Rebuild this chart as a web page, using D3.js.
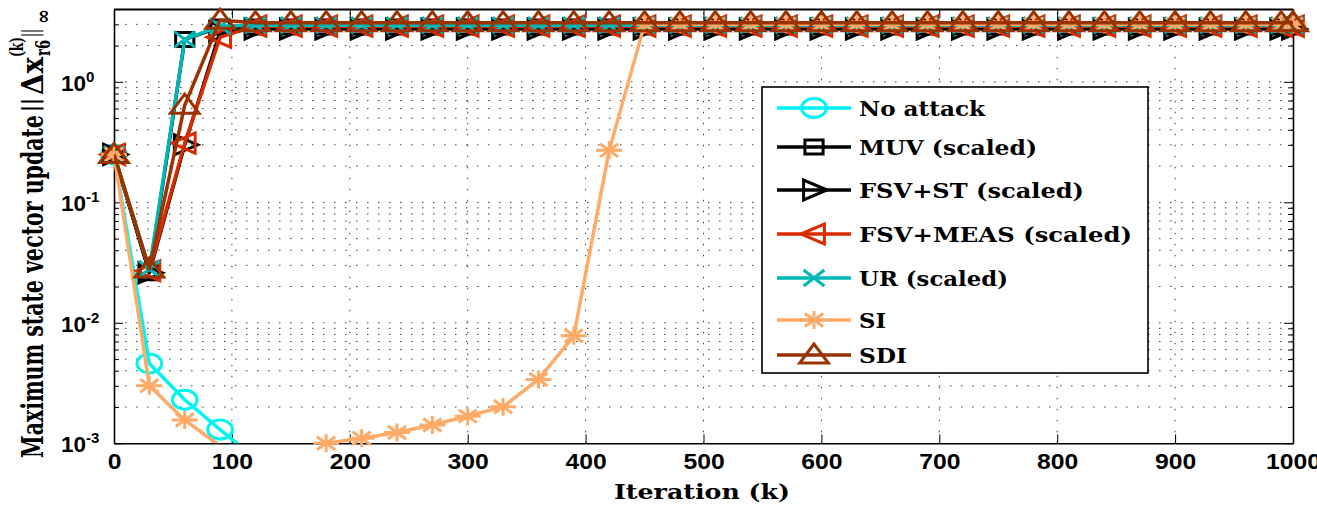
<!DOCTYPE html>
<html><head><meta charset="utf-8">
<script src="https://cdn.jsdelivr.net/npm/d3@7"></script>
<style>body{margin:0;background:#fff}svg{display:block}</style>
</head><body>
<svg id="c" width="1317" height="505"></svg>
<script>
// ---------- data ----------
const iterations = [0,30,60,90,120,150,180,210,240,270,300,330,360,390,420,450,480,510,540,570,600,630,660,690,720,750,780,810,840,870,900,930,960,990,1000];
const noAttack = [0.25,0.0046,0.0023,0.0013,0.00075,0.00045];
const muv = [0.25,0.026,2.25,2.85,2.85,2.85,2.85,2.85,2.85,2.85,2.85,2.85,2.85,2.85,2.85,2.85,2.85,2.85,2.85,2.85,2.85,2.85,2.85,2.85,2.85,2.85,2.85,2.85,2.85,2.85,2.85,2.85,2.85,2.85,2.85];
const fsvSt = [0.25,0.026,0.30,2.6,2.75,2.75,2.75,2.75,2.75,2.75,2.75,2.75,2.75,2.75,2.75,2.75,2.75,2.75,2.75,2.75,2.75,2.75,2.75,2.75,2.75,2.75,2.75,2.75,2.75,2.75,2.75,2.75,2.75,2.75,2.75];
const fsvMeas = [0.25,0.027,0.31,2.35,2.9,2.9,2.9,2.9,2.9,2.9,2.9,2.9,2.9,2.9,2.9,2.9,2.9,2.9,2.9,2.9,2.9,2.9,2.9,2.9,2.9,2.9,2.9,2.9,2.9,2.9,2.9,2.9,2.9,2.9,2.9];
const ur = [0.25,0.028,2.25,2.9,2.95,2.95,2.95,2.95,2.95,2.95,2.95,2.95,2.95,2.95,2.95,2.95,2.95,2.95,2.95,2.95,2.95,2.95,2.95,2.95,2.95,2.95,2.95,2.95,2.95,2.95,2.95,2.95,2.95,2.95,2.95];
const si = [0.25,0.0030,0.00156,0.00095,0.0007,0.0008,0.00100,0.00110,0.00123,0.00142,0.00168,0.00201,0.00339,0.0078,0.27,3.0,3.0,3.0,3.0,3.0,3.0,3.0,3.0,3.0,3.0,3.0,3.0,3.0,3.0,3.0,3.0,3.0,3.0,3.0,3.0];
const sdi = [0.25,0.028,0.64,3.25,3.1,3.1,3.1,3.1,3.1,3.1,3.1,3.1,3.1,3.1,3.1,3.1,3.1,3.1,3.1,3.1,3.1,3.1,3.1,3.1,3.1,3.1,3.1,3.1,3.1,3.1,3.1,3.1,3.1,3.1,3.1];
const seriesNames = ["No attack","MUV (scaled)","FSV+ST (scaled)","FSV+MEAS (scaled)","UR (scaled)","SI","SDI"];
const xTicks = [0,100,200,300,400,500,600,700,800,900,1000];
const xTickLabels = ["0","100","200","300","400","500","600","700","800","900","1000"];
const yMajorTicks = [0.001,0.01,0.1,1];
const yMajorExp = ["-3","-2","-1","0"];

// ---------- layout / style ----------
const L = 114, R = 1293, T = 9.3, B = 443.3;
const colors = ["#00f4f4","#000000","#000000","#d92b00","#00b7b7","#ffaa66","#993300"];
const markerPaths = {
  circle: "M9.5,0A9.5,9.5 0 1,1 -9.5,0A9.5,9.5 0 1,1 9.5,0Z",
  square: "M-7,-7H7V7H-7Z",
  triRight: "M10,0L-8,-10L-8,10Z",
  triLeft: "M-10,0L8,-10L8,10Z",
  cross: "M-8,-8L8,8M-8,8L8,-8",
  aster: "M-10,0H10M0,-9V9M-7,-6.5L7,6.5M-7,6.5L7,-6.5",
  triUp: "M0,-11L-11,8L11,8Z"
};
const markers = ["circle","square","triRight","triLeft","cross","aster","triUp"];
const seriesValues = [noAttack, muv, fsvSt, fsvMeas, ur, si, sdi];
const MSX = 1.3;

const svg = d3.select("#c");
const x = d3.scaleLinear().domain([0,1000]).range([L,R]);
const y = d3.scaleLog().domain([0.001,4]).range([B,T]);

// clip
svg.append("defs").append("clipPath").attr("id","plotclip")
  .append("rect").attr("x",L).attr("y",T).attr("width",R-L).attr("height",B-T);

// grid
const grid = svg.append("g").attr("stroke","#3a3a3a").attr("stroke-width",1).attr("stroke-dasharray","1.5,9.5");
grid.selectAll("line.gx").data(xTicks.filter(v=>v>0&&v<1000)).join("line").attr("class","gx")
  .attr("x1",d=>x(d)).attr("x2",d=>x(d)).attr("y1",B).attr("y2",T);
const yAll = y.ticks().filter(v=>v<3.99);
grid.selectAll("line.gy").data(yAll.filter(v=>v>0.00101)).join("line").attr("class","gy")
  .attr("x1",L).attr("x2",R).attr("y1",d=>y(d)).attr("y2",d=>y(d));

// axes
function styleAxis(g){
  g.select(".domain").attr("stroke","#000").attr("stroke-width",1.6);
  g.selectAll(".tick line").attr("stroke","#000").attr("stroke-width",1);
}
const gx = svg.append("g").attr("transform",`translate(0,${B})`)
  .call(d3.axisBottom(x).tickValues(xTicks).tickFormat((d,i)=>xTickLabels[i])
    .tickSizeInner(-9).tickSizeOuter(0).tickPadding(10));
styleAxis(gx);
gx.selectAll("text").attr("font-family","'Liberation Sans', Arial, sans-serif").attr("font-weight","bold")
  .attr("font-size",21.5).attr("fill","#000").attr("transform","scale(1.15,1)");
const gxt = svg.append("g").attr("transform",`translate(0,${T})`)
  .call(d3.axisTop(x).tickValues(xTicks).tickSizeInner(-9).tickSizeOuter(0).tickFormat(""));
styleAxis(gxt);

const gy = svg.append("g").attr("transform",`translate(${L},0)`)
  .call(d3.axisLeft(y).tickValues(yAll).tickSizeInner(-5).tickSizeOuter(0).tickFormat(""));
styleAxis(gy);
gy.selectAll(".tick text").remove();
gy.selectAll(".tick").filter(d=>yMajorTicks.some(m=>Math.abs(m-d)/m<1e-6)).each(function(d){
  const g = d3.select(this);
  g.select("line").attr("x2",9);
  const idx = yMajorTicks.findIndex(m=>Math.abs(m-d)/m<1e-6);
  const t = g.append("text").attr("x",61-L).attr("y",8.5).attr("text-anchor","start")
    .attr("font-family","'Liberation Sans', Arial, sans-serif").attr("font-weight","bold").attr("fill","#000")
    .attr("font-size",22.5);
  t.append("tspan").text("10");
  t.append("tspan").attr("dy",-9).attr("font-size",15).text(yMajorExp[idx]);
});
const gyr = svg.append("g").attr("transform",`translate(${R},0)`)
  .call(d3.axisRight(y).tickValues(yAll).tickSizeInner(-5).tickSizeOuter(0).tickFormat(""));
styleAxis(gyr);
gyr.selectAll(".tick").filter(d=>yMajorTicks.some(m=>Math.abs(m-d)/m<1e-6)).select("line").attr("x2",-9);
// top border
svg.append("line").attr("x1",L).attr("x2",R).attr("y1",T).attr("y2",T).attr("stroke","#000").attr("stroke-width",1.6);

// series
const line = d3.line().x(d=>x(d[0])).y(d=>y(Math.max(d[1],1e-6)));
const plot = svg.append("g");
seriesValues.forEach((vals,i)=>{
  const pts = vals.map((v,j)=>[iterations[j],v]);
  const sg = plot.append("g");
  sg.append("path").datum(pts).attr("clip-path","url(#plotclip)")
    .attr("d",line).attr("fill","none").attr("stroke",colors[i]).attr("stroke-width",3.5)
    .attr("stroke-linejoin","round");
  sg.selectAll("path.m").data(pts.filter(p=>p[1]>=0.000995 && p[1]<=4.2)).join("path").attr("class","m")
    .attr("d",markerPaths[markers[i]])
    .attr("transform",p=>`translate(${x(p[0])},${y(p[1])}) scale(${MSX},1)`)
    .attr("fill","none").attr("stroke",colors[i]).attr("stroke-width",3)
    .attr("vector-effect","non-scaling-stroke");
});

// legend
const legRows = [108,147,190,234,278,320,355];
const legWidths = [126,178,225,273,149,27,48];
const lg = svg.append("g");
lg.append("rect").attr("x",762).attr("y",87).attr("width",386).attr("height",286)
  .attr("fill","#fff").attr("stroke","#000").attr("stroke-width",1.6);
seriesNames.forEach((name,i)=>{
  const yy = legRows[i];
  lg.append("line").attr("x1",777).attr("x2",851).attr("y1",yy).attr("y2",yy)
    .attr("stroke",colors[i]).attr("stroke-width",3.5);
  lg.append("path").attr("d",markerPaths[markers[i]]).attr("transform",`translate(814,${yy}) scale(${MSX},1)`)
    .attr("fill","none").attr("stroke",colors[i]).attr("stroke-width",3).attr("vector-effect","non-scaling-stroke");
  lg.append("text").attr("x",859).attr("y",yy+7.5).attr("font-family","'DejaVu Serif', serif")
    .attr("font-weight","bold").attr("font-size",19.5).attr("fill","#000")
    .attr("textLength",legWidths[i]).attr("lengthAdjust","spacingAndGlyphs").text(name);
});

// x label
svg.append("text").attr("x",614).attr("y",499).attr("font-family","'DejaVu Serif', serif")
  .attr("font-weight","bold").attr("font-size",21).attr("fill","#000")
  .attr("textLength",176).attr("lengthAdjust","spacingAndGlyphs").text("Iteration (k)");

// y label
const yt = svg.append("g").attr("transform","translate(43,458) rotate(-90) scale(1,1.5)")
  .attr("font-family","'DejaVu Serif', serif").attr("font-weight","bold").attr("fill","#000");
const titlePieces = [
  {t:"Maximum state vector update", x0:0, x1:343, y:0, fs:20},
  {t:"||", x0:346, x1:360, y:-3.5, fs:15},
  {t:"\u0394x", x0:363, x1:401, y:0, fs:20},
  {t:"(k)", x0:401, x1:421, y:-13.5, fs:12},
  {t:"r6", x0:402, x1:418, y:4.8, fs:13},
  {t:"||", x0:421, x1:429, y:-3.5, fs:15},
  {t:"\u221E", x0:434, x1:449, y:4.8, fs:14}
];
titlePieces.forEach(p=>{
  yt.append("text").attr("x",p.x0).attr("y",p.y).attr("font-size",p.fs)
    .attr("textLength",p.x1-p.x0).attr("lengthAdjust","spacingAndGlyphs").text(p.t);
});
</script>
</body></html>
